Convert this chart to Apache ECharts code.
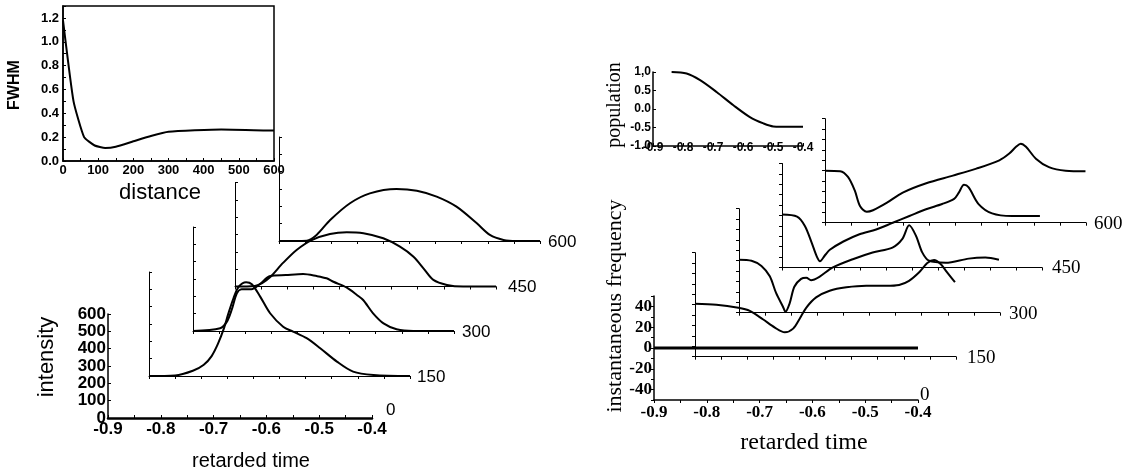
<!DOCTYPE html>
<html>
<head>
<meta charset="utf-8">
<script src="https://cdn.jsdelivr.net/npm/echarts@6/dist/echarts.min.js"></script>
<style>
html, body { margin: 0; padding: 0; background: #fff; }
#chartContainer { width: 1134px; height: 473px; }
</style>
</head>
<body>
<div id="chartContainer"></div>
<script>
// FWHM vs distance (inset, top left)
var fwhmDist = [0, 30, 60, 90, 120, 150, 200, 250, 300, 450, 600];
var fwhmVal = [1.18, 0.5, 0.2, 0.13, 0.11, 0.12, 0.165, 0.21, 0.245, 0.265, 0.255];

// intensity vs retarded time, one trace per distance
var distances = ['0', '150', '300', '450', '600'];
var int150 = [[-0.9,0],[-0.85,3],[-0.816,30],[-0.795,65],[-0.78,115],[-0.768,185],[-0.757,270],[-0.748,360],[-0.738,450],[-0.728,515],[-0.714,541],[-0.703,529],[-0.687,458],[-0.668,362],[-0.643,284],[-0.624,256],[-0.598,218],[-0.572,160],[-0.54,83],[-0.509,25],[-0.47,6],[-0.4,0]];
var int300 = [[-0.9,0],[-0.848,16],[-0.835,54],[-0.826,121],[-0.816,218],[-0.807,241],[-0.788,241],[-0.772,271],[-0.752,317],[-0.722,323],[-0.689,329],[-0.663,317],[-0.644,304],[-0.631,284],[-0.606,251],[-0.586,208],[-0.574,179],[-0.555,102],[-0.535,44],[-0.51,10],[-0.478,0],[-0.4,0]];
var int450 = [[-0.9,0],[-0.862,3],[-0.848,20],[-0.833,53],[-0.808,136],[-0.782,211],[-0.753,268],[-0.718,303],[-0.686,313],[-0.654,307],[-0.616,278],[-0.584,230],[-0.558,172],[-0.539,105],[-0.52,38],[-0.494,9],[-0.463,0],[-0.4,0]];
var int600 = [[-0.9,0],[-0.847,2],[-0.828,35],[-0.802,121],[-0.764,218],[-0.726,275],[-0.675,300],[-0.636,290],[-0.598,256],[-0.56,198],[-0.521,102],[-0.496,35],[-0.47,6],[-0.445,0],[-0.4,0]];

// population inset (top right)
var popData = [[-0.838,1.0],[-0.788,0.96],[-0.743,0.78],[-0.688,0.46],[-0.632,0.10],[-0.577,-0.22],[-0.532,-0.39],[-0.499,-0.47],[-0.443,-0.48],[-0.4,-0.48]];

// instantaneous frequency vs retarded time
var freq0 = [[-0.9,0],[-0.4,0]];
var freq150 = [[-0.9,1],[-0.859,0],[-0.817,-3],[-0.795,-6],[-0.77,-14],[-0.747,-22],[-0.728,-26.6],[-0.712,-23],[-0.7,-14],[-0.687,-3],[-0.668,7],[-0.642,13.4],[-0.61,16.7],[-0.572,18.2],[-0.534,18.2],[-0.509,19],[-0.49,23],[-0.471,31],[-0.455,40],[-0.442,43],[-0.429,39],[-0.42,33],[-0.402,21.6]];
var freq300 = [[-0.9,1],[-0.876,0],[-0.857,-5],[-0.841,-15],[-0.829,-31],[-0.816,-44],[-0.811,-49],[-0.803,-41],[-0.794,-25],[-0.781,-17.5],[-0.771,-16.5],[-0.762,-18.8],[-0.746,-15.5],[-0.721,-6.7],[-0.682,1.4],[-0.644,7.9],[-0.606,12.6],[-0.587,21],[-0.574,34],[-0.561,24],[-0.549,8],[-0.536,0],[-0.504,-2],[-0.46,2],[-0.428,3],[-0.402,1]];
var freq450 = [[-0.9,1],[-0.871,-1],[-0.856,-10],[-0.843,-26],[-0.833,-39.5],[-0.827,-44],[-0.817,-38],[-0.808,-33],[-0.782,-25],[-0.751,-18],[-0.719,-13.5],[-0.687,-7],[-0.655,-0.5],[-0.623,6],[-0.592,11],[-0.569,16],[-0.56,22],[-0.55,29.5],[-0.541,27],[-0.522,11],[-0.496,2],[-0.458,-0.5],[-0.404,-0.5]];
var freq600 = [[-0.9,0],[-0.871,-0.5],[-0.856,-6],[-0.843,-19],[-0.833,-34],[-0.82,-39.5],[-0.808,-38],[-0.782,-31],[-0.751,-21],[-0.706,-12],[-0.655,-4.7],[-0.61,2],[-0.566,10],[-0.547,16.5],[-0.534,23],[-0.525,26],[-0.515,23],[-0.496,11.6],[-0.471,3.4],[-0.439,0],[-0.401,-0.5]];

var SANS = '"Liberation Sans", Arial, sans-serif';
var SERIF = '"Liberation Serif", "Times New Roman", serif';

// plane geometry (pixels): left edge, baseline, width, label spot
var leftPlanes = [
	{ left: 108, base: 418, w: 264, lx: 386, ly: 411 },
	{ left: 149, base: 376, w: 261, lx: 417, ly: 378 },
	{ left: 193, base: 331, w: 261, lx: 462, ly: 333 },
	{ left: 235, base: 286.5, w: 261, lx: 508, ly: 288 },
	{ left: 279, base: 241, w: 261, lx: 548, ly: 243 }
];
var rightPlanes = [
	{ left: 654, base: 400, w: 264, lx: 920, ly: 397 },
	{ left: 695, base: 356.7, w: 261, lx: 967, ly: 360 },
	{ left: 739, base: 312.7, w: 261, lx: 1009, ly: 316 },
	{ left: 782, base: 267.5, w: 260, lx: 1052, ly: 270 },
	{ left: 825, base: 222.7, w: 261, lx: 1094, ly: 226 }
];
var PLANE_H = 104;

var option = null;

function tickFmt(v) {
	return Math.round(v * 100) % 10 === 0 ? v.toFixed(1) : '';
}

function blackLine(w) {
	return { show: true, onZero: false, lineStyle: { color: '#000', width: w } };
}

function initOption() {
	var grids = [], xAxes = [], yAxes = [], series = [], texts = [];

	function trace(idx, data, width) {
		series.push({
			type: 'line', xAxisIndex: idx, yAxisIndex: idx, data: data,
			showSymbol: false, smooth: 0.3, clip: false, silent: true,
			lineStyle: { color: '#000', width: width || 2 }
		});
	}

	// --- FWHM inset ---
	grids.push({ left: 63, top: 6, width: 211, height: 155, show: true, borderColor: '#000', borderWidth: 1.5, outerBoundsMode: 'none' });
	xAxes.push({
		gridIndex: 0, type: 'value', min: 0, max: 600, interval: 50,
		axisLine: blackLine(1.5), splitLine: { show: false },
		axisTick: { inside: true, length: 3, lineStyle: { color: '#000' } },
		axisLabel: { formatter: function(v) { return v % 100 === 0 ? v : ''; }, color: '#000', fontFamily: SANS, fontWeight: 'bold', fontSize: 13, margin: 3 }
	});
	yAxes.push({
		gridIndex: 0, type: 'value', min: 0, max: 1.3, interval: 0.1,
		axisLine: blackLine(1.5), splitLine: { show: false },
		axisTick: { inside: true, length: 3, lineStyle: { color: '#000' } },
		axisLabel: { formatter: function(v) { return Math.round(v * 10) % 2 === 0 ? v.toFixed(1) : ''; }, color: '#000', fontFamily: SANS, fontWeight: 'bold', fontSize: 13, margin: 4 }
	});
	var fwhm = [];
	each(fwhmDist, function(i, d) { fwhm.push([d, fwhmVal[i]]); });
	series.push({ type: 'line', xAxisIndex: 0, yAxisIndex: 0, data: fwhm, showSymbol: false, smooth: 0.15, silent: true, lineStyle: { color: '#000', width: 2 } });

	// --- intensity planes ---
	var intTraces = [null, int150, int300, int450, int600];
	each(leftPlanes, function(k, p) {
		var idx = grids.length;
		var main = k === 0;
		grids.push({ left: p.left, top: p.base - PLANE_H, width: p.w, height: PLANE_H, outerBoundsMode: 'none' });
		xAxes.push({
			gridIndex: idx, type: 'value', min: -0.9, max: -0.4, interval: 0.05,
			axisLine: blackLine(main ? 2.5 : 1), splitLine: { show: false },
			axisTick: { inside: main, length: 3, lineStyle: { color: '#000' } },
			axisLabel: { show: main, formatter: tickFmt, color: '#000', fontFamily: SANS, fontWeight: 'bold', fontSize: 17, margin: 3 }
		});
		yAxes.push({
			gridIndex: idx, type: 'value', min: 0, max: 600, interval: 100,
			axisLine: blackLine(main ? 1.5 : 1), splitLine: { show: false },
			axisTick: { inside: true, length: 3, lineStyle: { color: '#000' } },
			axisLabel: { show: main, color: '#000', fontFamily: SANS, fontWeight: 'bold', fontSize: 17, margin: 2 }
		});
		if (intTraces[k]) trace(idx, intTraces[k]);
		texts.push({ type: 'text', left: p.lx, top: p.ly - 9, style: { text: distances[k], font: '17px ' + SANS, fill: '#000' } });
	});

	// --- population inset ---
	var pIdx = grids.length;
	grids.push({ left: 653, top: 72, width: 150, height: 74, outerBoundsMode: 'none' });
	xAxes.push({
		gridIndex: pIdx, type: 'value', min: -0.9, max: -0.4, interval: 0.1,
		axisLine: blackLine(1.5), splitLine: { show: false },
		axisTick: { inside: true, length: 3, lineStyle: { color: '#000' } },
		axisLabel: { formatter: function(v) { return v.toFixed(1); }, color: '#000', fontFamily: SANS, fontWeight: 'bold', fontSize: 12, margin: -4 }
	});
	yAxes.push({
		gridIndex: pIdx, type: 'value', min: -1, max: 1, interval: 0.5,
		axisLine: blackLine(1.5), splitLine: { show: false },
		axisTick: { inside: true, length: 3, lineStyle: { color: '#000' } },
		axisLabel: { formatter: function(v) { return v === 1 ? '1,0' : v.toFixed(1); }, color: '#000', fontFamily: SANS, fontWeight: 'bold', fontSize: 12, margin: 2 }
	});
	trace(pIdx, popData);

	// --- instantaneous frequency planes ---
	var freqTraces = [freq0, freq150, freq300, freq450, freq600];
	each(rightPlanes, function(k, p) {
		var idx = grids.length;
		var main = k === 0;
		grids.push({ left: p.left, top: p.base - PLANE_H, width: p.w, height: PLANE_H, outerBoundsMode: 'none' });
		xAxes.push({
			gridIndex: idx, type: 'value', min: -0.9, max: -0.4, interval: 0.05,
			axisLine: blackLine(main ? 1.5 : 1), splitLine: { show: false },
			axisTick: { inside: false, length: 3, lineStyle: { color: '#000' } },
			axisLabel: { show: main, formatter: tickFmt, color: '#000', fontFamily: SERIF, fontWeight: 'bold', fontSize: 17, margin: 4 }
		});
		yAxes.push({
			gridIndex: idx, type: 'value', min: -50, max: 50, interval: 10,
			axisLine: blackLine(main ? 1.5 : 1), splitLine: { show: false },
			axisTick: { inside: false, length: 3, lineStyle: { color: '#000' } },
			axisLabel: { show: main, formatter: function(v) { return v % 20 === 0 ? v : ''; }, color: '#000', fontFamily: SERIF, fontWeight: 'bold', fontSize: 17, margin: 2 }
		});
		trace(idx, freqTraces[k], main ? 3 : 2);
		texts.push({ type: 'text', left: p.lx, top: p.ly - 11, style: { text: distances[k], font: '19px ' + SERIF, fill: '#000' } });
	});

	// axis titles
	texts.push({ type: 'text', x: 15, y: 85, rotation: Math.PI / 2, style: { text: 'FWHM', font: 'bold 16px ' + SANS, fill: '#000', align: 'center', verticalAlign: 'middle' } });
	texts.push({ type: 'text', x: 160, y: 193, style: { text: 'distance', font: '22px ' + SANS, fill: '#000', align: 'center', verticalAlign: 'middle' } });
	texts.push({ type: 'text', x: 47, y: 357, rotation: Math.PI / 2, style: { text: 'intensity', font: '22px ' + SANS, fill: '#000', align: 'center', verticalAlign: 'middle' } });
	texts.push({ type: 'text', x: 251, y: 461, style: { text: 'retarded time', font: '20px ' + SANS, fill: '#000', align: 'center', verticalAlign: 'middle' } });
	texts.push({ type: 'text', x: 615, y: 105, rotation: Math.PI / 2, style: { text: 'population', font: '20px ' + SERIF, fill: '#000', align: 'center', verticalAlign: 'middle' } });
	texts.push({ type: 'text', x: 615, y: 306, rotation: Math.PI / 2, style: { text: 'instantaneous frequency', font: '22px ' + SERIF, fill: '#000', align: 'center', verticalAlign: 'middle' } });
	texts.push({ type: 'text', x: 804, y: 443, style: { text: 'retarded time', font: '24px ' + SERIF, fill: '#000', align: 'center', verticalAlign: 'middle' } });

	option = {
		backgroundColor: '#fff',
		animation: false,
		grid: grids,
		xAxis: xAxes,
		yAxis: yAxes,
		series: series,
		graphic: texts
	};
}

function initChart() {
	initOption();
	var chartContainer = echarts.init(document.getElementById('chartContainer'));
	chartContainer.setOption(option);
}

function each(list, fn) {
	for (var i = 0; i < list.length; i++) fn(i, list[i]);
}

initChart();
</script>
</body>
</html>
